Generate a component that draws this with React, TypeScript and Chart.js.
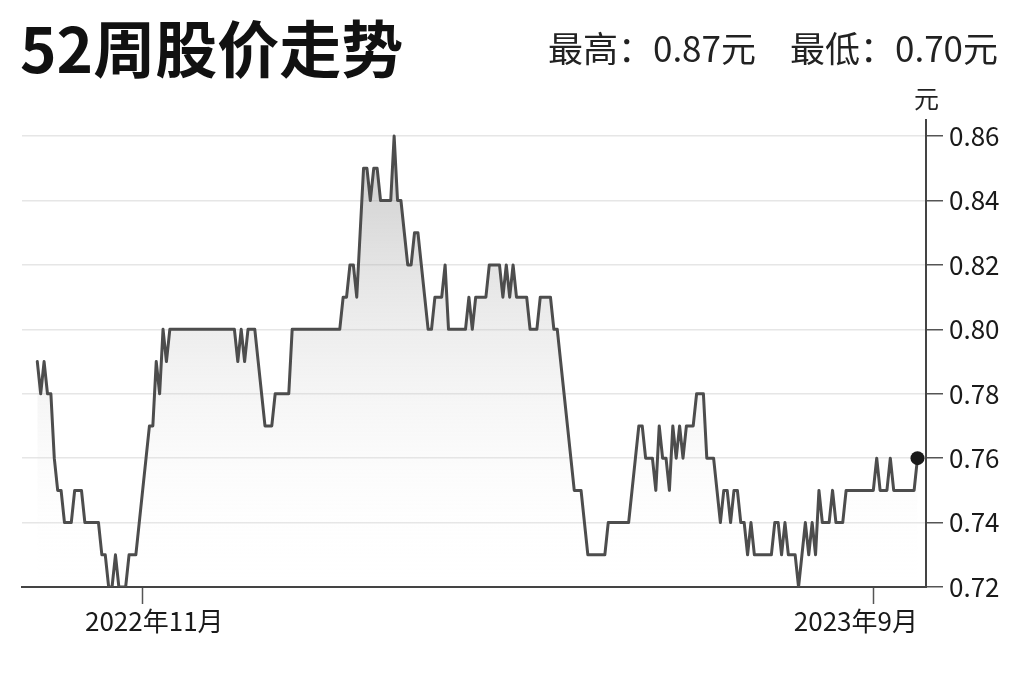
import React, { useEffect, useRef } from 'react';
import { Chart, registerables } from 'chart.js';

Chart.register(...registerables);

// Daily closing prices (yuan), oldest to newest
const priceValues: number[] = [
  0.79, 0.78, 0.79, 0.78, 0.78, 0.76, 0.75, 0.75, 0.74, 0.74,
  0.74, 0.75, 0.75, 0.75, 0.74, 0.74, 0.74, 0.74, 0.74, 0.73,
  0.73, 0.72, 0.72, 0.73, 0.72, 0.72, 0.72, 0.73, 0.73, 0.73,
  0.74, 0.75, 0.76, 0.77, 0.77, 0.79, 0.78, 0.80, 0.79, 0.80,
  0.80, 0.80, 0.80, 0.80, 0.80, 0.80, 0.80, 0.80, 0.80, 0.80,
  0.80, 0.80, 0.80, 0.80, 0.80, 0.80, 0.80, 0.80, 0.80, 0.79,
  0.80, 0.79, 0.80, 0.80, 0.80, 0.79, 0.78, 0.77, 0.77, 0.77,
  0.78, 0.78, 0.78, 0.78, 0.78, 0.80, 0.80, 0.80, 0.80, 0.80,
  0.80, 0.80, 0.80, 0.80, 0.80, 0.80, 0.80, 0.80, 0.80, 0.80,
  0.81, 0.81, 0.82, 0.82, 0.81, 0.83, 0.85, 0.85, 0.84, 0.85,
  0.85, 0.84, 0.84, 0.84, 0.84, 0.86, 0.84, 0.84, 0.83, 0.82,
  0.82, 0.83, 0.83, 0.82, 0.81, 0.80, 0.80, 0.81, 0.81, 0.81,
  0.82, 0.80, 0.80, 0.80, 0.80, 0.80, 0.80, 0.81, 0.80, 0.81,
  0.81, 0.81, 0.81, 0.82, 0.82, 0.82, 0.82, 0.81, 0.82, 0.81,
  0.82, 0.81, 0.81, 0.81, 0.81, 0.80, 0.80, 0.80, 0.81, 0.81,
  0.81, 0.81, 0.80, 0.80, 0.79, 0.78, 0.77, 0.76, 0.75, 0.75,
  0.75, 0.74, 0.73, 0.73, 0.73, 0.73, 0.73, 0.73, 0.74, 0.74,
  0.74, 0.74, 0.74, 0.74, 0.74, 0.75, 0.76, 0.77, 0.77, 0.76,
  0.76, 0.76, 0.75, 0.77, 0.76, 0.76, 0.75, 0.77, 0.76, 0.77,
  0.76, 0.77, 0.77, 0.77, 0.78, 0.78, 0.78, 0.76, 0.76, 0.76,
  0.75, 0.74, 0.75, 0.75, 0.74, 0.75, 0.75, 0.74, 0.74, 0.73,
  0.74, 0.73, 0.73, 0.73, 0.73, 0.73, 0.73, 0.74, 0.74, 0.73,
  0.74, 0.73, 0.73, 0.73, 0.72, 0.73, 0.74, 0.73, 0.74, 0.73,
  0.75, 0.74, 0.74, 0.74, 0.75, 0.74, 0.74, 0.74, 0.75, 0.75,
  0.75, 0.75, 0.75, 0.75, 0.75, 0.75, 0.75, 0.76, 0.75, 0.75,
  0.75, 0.76, 0.75, 0.75, 0.75, 0.75, 0.75, 0.75, 0.75, 0.76,
];

// Trading-day indices where the month labels sit
const xTickIndices: number[] = [31, 246];
const xTickLabels: string[] = ['    2022年11月', '2023年9月      '];
const yTickValues: number[] = [0.72, 0.74, 0.76, 0.78, 0.8, 0.82, 0.84, 0.86];

const titleText = '52周股价走势';
const highText = '最高：0.87元';
const lowText = '最低：0.70元';
const unitText = '元';

const FONT = '"Noto Sans CJK SC", "Noto Sans", sans-serif';

export default function App() {
  const canvasRef = useRef<HTMLCanvasElement | null>(null);

  useEffect(() => {
    const canvas = canvasRef.current;
    if (!canvas) return;
    const lastIndex = priceValues.length - 1;

    const chart = new Chart(canvas, {
      type: 'line',
      data: {
        datasets: [
          {
            data: priceValues.map((v, i) => ({ x: i, y: v })),
            borderColor: '#4d4d4d',
            borderWidth: 3,
            borderJoinStyle: 'round',
            borderCapStyle: 'round',
            tension: 0,
            fill: 'start',
            backgroundColor: (ctx: any) => {
              const c = ctx.chart;
              const area = c.chartArea;
              if (!area) return 'rgba(0,0,0,0)';
              const g = c.ctx.createLinearGradient(0, area.top, 0, area.bottom);
              g.addColorStop(0, 'rgba(135,135,135,0.48)');
              g.addColorStop(1, 'rgba(255,255,255,0)');
              return g;
            },
            pointRadius: (ctx: any) => (ctx.dataIndex === lastIndex ? 7 : 0),
            pointHoverRadius: (ctx: any) => (ctx.dataIndex === lastIndex ? 7 : 0),
            pointBackgroundColor: '#1a1a1a',
            pointBorderColor: '#1a1a1a',
            pointBorderWidth: 0,
          },
        ],
      },
      options: {
        responsive: false,
        animation: false,
        events: [],
        layout: { padding: { left: 22, top: 120, right: 0, bottom: 0 } },
        plugins: {
          legend: { display: false },
          tooltip: { enabled: false },
        },
        scales: {
          x: {
            type: 'linear',
            min: -4.5,
            max: 261.5,
            afterBuildTicks: (scale: any) => {
              scale.ticks = xTickIndices.map((v) => ({ value: v }));
            },
            afterFit: (scale: any) => {
              scale.height = 95;
            },
            grid: {
              drawOnChartArea: false,
              drawTicks: true,
              tickLength: 17,
              tickColor: '#555555',
              tickWidth: 1.5,
            },
            border: { display: true, color: '#444444', width: 2 },
            ticks: {
              autoSkip: false,
              maxRotation: 0,
              minRotation: 0,
              padding: 2,
              color: '#1a1a1a',
              font: { family: FONT, size: 26 },
              callback: (value: any) => {
                const k = xTickIndices.indexOf(Number(value));
                return k >= 0 ? xTickLabels[k] : '';
              },
            },
          },
          y: {
            position: 'right',
            min: 0.72,
            max: 0.865,
            afterBuildTicks: (scale: any) => {
              scale.ticks = yTickValues.map((v) => ({ value: v }));
            },
            afterFit: (scale: any) => {
              scale.width = 98;
            },
            grid: {
              color: '#e6e6e6',
              lineWidth: 1.5,
              drawTicks: true,
              tickLength: 17,
              tickColor: '#555555',
              tickWidth: 1.5,
            },
            border: { display: true, color: '#444444', width: 2 },
            ticks: {
              padding: 6,
              color: '#1a1a1a',
              font: { family: FONT, size: 26 },
              callback: (value: any) => Number(value).toFixed(2),
            },
          },
        },
      },
    } as any);

    return () => {
      chart.destroy();
    };
  }, []);

  return (
    <div
      style={{
        position: 'fixed',
        left: 0,
        top: 0,
        width: 1024,
        height: 682,
        overflow: 'hidden',
        background: '#ffffff',
        fontFamily: FONT,
      }}
    >
      <canvas
        ref={canvasRef}
        width={1024}
        height={682}
        style={{ position: 'absolute', left: 0, top: 0, width: 1024, height: 682 }}
      />
      <div
        style={{
          position: 'absolute',
          left: 20,
          top: 15,
          fontSize: 62,
          fontWeight: 700,
          lineHeight: 1,
          color: '#111111',
          whiteSpace: 'nowrap',
        }}
      >
        {titleText}
      </div>
      <div
        style={{
          position: 'absolute',
          right: 26,
          top: 29,
          fontSize: 35,
          lineHeight: 1,
          color: '#222222',
          whiteSpace: 'nowrap',
        }}
      >
        <span>{highText}</span>
        <span style={{ marginLeft: 34 }}>{lowText}</span>
      </div>
      <div
        style={{
          position: 'absolute',
          left: 914,
          top: 85,
          fontSize: 25,
          lineHeight: 1,
          color: '#222222',
          whiteSpace: 'nowrap',
        }}
      >
        {unitText}
      </div>
    </div>
  );
}
